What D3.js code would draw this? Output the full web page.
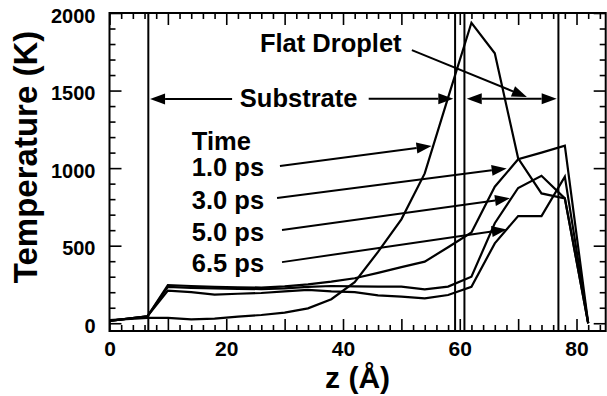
<!DOCTYPE html>
<html>
<head>
<meta charset="utf-8">
<script src="https://cdn.jsdelivr.net/npm/d3@7"></script>
<style>
  body { margin: 0; background: #fff; }
  svg { display: block; }
  text { font-family: "Liberation Sans", Arial, Helvetica, sans-serif; font-weight: bold; fill: #000; }
</style>
</head>
<body>
<svg id="chart" width="607" height="396"></svg>
<script>
// Position along the surface normal (Å) of each temperature sample
const zPositions = [0, 6.5, 10, 14, 18, 22, 26, 30, 34, 38, 42, 46, 50, 54, 58, 62, 66, 70, 74, 78, 82];

// Temperature profiles (K) at each time
const temp1_0ps = [20, 35, 35, 25, 30, 43, 53, 68, 96, 155, 265, 460, 670, 966, 1454, 1937, 1740, 1063, 837, 805, 0];
const temp3_0ps = [15, 45, 245, 240, 235, 232, 230, 238, 250, 268, 290, 325, 362, 397, 490, 585, 880, 1057, 1100, 1145, 0];
const temp5_0ps = [15, 45, 235, 228, 225, 222, 220, 225, 235, 240, 238, 236, 236, 219, 236, 300, 645, 872, 951, 805, 0];
const temp6_5ps = [15, 45, 210, 200, 185, 190, 195, 205, 215, 205, 200, 180, 171, 160, 182, 235, 515, 691, 691, 945, 0];

const timeLabels = ["1.0 ps", "3.0 ps", "5.0 ps", "6.5 ps"];
const profiles = [temp1_0ps, temp3_0ps, temp5_0ps, temp6_5ps];

// Axis ticks
const xTickLabels = [0, 20, 40, 60, 80];
const yTickLabels = [0, 500, 1000, 1500, 2000];

// Region boundaries (Å): substrate edges and droplet edges
const boundaryLines = [6.65, 59.2, 60.8, 76.9];

const svg = d3.select("#chart");
const x = d3.scaleLinear().domain([0, 85]).range([109.5, 605.7]);
const y = d3.scaleLinear().domain([-50, 2000]).range([331, 13]);

const FONT = '"Liberation Sans", Arial, Helvetica, sans-serif';
const NOTE_SIZE = 25.5;

function styleAxis(g, size) {
  g.attr("font-family", FONT).attr("font-size", size).attr("font-weight", "bold");
  g.select(".domain").remove();
  g.selectAll(".tick line").attr("stroke", "#000").attr("stroke-width", 1.6);
}

// Bottom axis: ticks every 2 Å, longer every 10 Å, labels every 20 Å
const xMinor = d3.range(0, 85, 2);
const gx = svg.append("g").attr("transform", `translate(0,${y(-50)})`)
  .call(d3.axisBottom(x).tickValues(xMinor).tickSizeInner(-6).tickSizeOuter(0).tickPadding(10)
    .tickFormat(d => xTickLabels.includes(d) ? d : ""));
styleAxis(gx, 21);
gx.selectAll(".tick line").attr("y2", d => d % 10 === 0 ? -12 : -6);
gx.selectAll(".tick text").attr("y", 10).attr("dy", "0.72em");

// Top axis (mirrored ticks, no labels)
const gxt = svg.append("g").attr("transform", `translate(0,${y(2000)})`)
  .call(d3.axisTop(x).tickValues(xMinor).tickSizeInner(-6).tickSizeOuter(0).tickFormat(""));
styleAxis(gxt, 10);
gxt.selectAll(".tick line").attr("y2", d => d % 10 === 0 ? 12 : 6);

// Left axis: ticks every 100 K, longer every 500 K
const yMinor = d3.range(0, 2001, 100);
const gy = svg.append("g").attr("transform", `translate(${x(0)},0)`)
  .call(d3.axisLeft(y).tickValues(yMinor).tickSizeInner(-6).tickSizeOuter(0).tickPadding(14)
    .tickFormat(d => yTickLabels.includes(d) ? d : ""));
styleAxis(gy, 20);
gy.selectAll(".tick line").attr("x2", d => d % 500 === 0 ? 12 : 6);
gy.selectAll(".tick text").attr("dy", "0.45em");

// Right axis (mirrored ticks)
const gyr = svg.append("g").attr("transform", `translate(${x(85)},0)`)
  .call(d3.axisRight(y).tickValues(yMinor).tickSizeInner(-6).tickSizeOuter(0).tickFormat(""));
styleAxis(gyr, 10);
gyr.selectAll(".tick line").attr("x2", d => d % 500 === 0 ? -12 : -6);

// Plot frame
svg.append("rect")
  .attr("x", x(0)).attr("y", y(2000))
  .attr("width", x(85) - x(0)).attr("height", y(-50) - y(2000))
  .attr("fill", "none").attr("stroke", "#000").attr("stroke-width", 2);

// Region boundary lines
svg.append("g").selectAll("line").data(boundaryLines).join("line")
  .attr("x1", d => x(d)).attr("x2", d => x(d))
  .attr("y1", y(2000)).attr("y2", y(-50))
  .attr("stroke", "#000").attr("stroke-width", 2);

// Temperature profiles
const line = d3.line().x((d, i) => x(zPositions[i])).y(d => y(d));
svg.append("g").selectAll("path").data(profiles).join("path")
  .attr("d", d => line(d))
  .attr("fill", "none").attr("stroke", "#000").attr("stroke-width", 2.2)
  .attr("stroke-linejoin", "miter");

// Arrow helper (data coordinates), filled triangular heads
function arrow(z0, t0, z1, t1, both) {
  const p0 = [x(z0), y(t0)], p1 = [x(z1), y(t1)];
  const g = svg.append("g");
  const head = (a, b) => {
    const dx = b[0] - a[0], dy = b[1] - a[1];
    const len = Math.hypot(dx, dy), ux = dx / len, uy = dy / len;
    const L = 15, W = 5.5;
    const bx = b[0] - ux * L, by = b[1] - uy * L;
    g.append("path")
      .attr("d", `M${b[0]},${b[1]}L${bx - uy * W},${by + ux * W}L${bx + uy * W},${by - ux * W}Z`)
      .attr("fill", "#000");
    return [bx, by];
  };
  const e1 = head(p0, p1);
  const e0 = both ? head(p1, p0) : p0;
  g.append("line").attr("x1", e0[0]).attr("y1", e0[1]).attr("x2", e1[0]).attr("y2", e1[1])
    .attr("stroke", "#000").attr("stroke-width", 2);
}

// Region annotations
svg.append("text").attr("x", x(37.9)).attr("y", y(1748)).attr("text-anchor", "middle")
  .attr("font-size", NOTE_SIZE).text("Flat Droplet");
arrow(51.8, 1761, 71.5, 1458, false);

svg.append("text").attr("x", x(32.4)).attr("y", y(1394)).attr("text-anchor", "middle")
  .attr("font-size", NOTE_SIZE).text("Substrate");
arrow(21.0, 1445, 6.95, 1445, false);
arrow(44.4, 1448, 58.9, 1448, false);
arrow(61.2, 1448, 76.6, 1448, true);

// Time legend with arrows to each profile
svg.append("text").attr("x", x(14.1)).attr("y", y(1117)).attr("font-size", NOTE_SIZE).text("Time");
const labelTemps = [949, 736, 530, 330];
const arrowStarts = [[29.2, 1013], [28.7, 807], [29.55, 601], [29.55, 394]];
const arrowTips = [[55.16, 1142], [68.04, 998], [68.6, 805], [68.04, 605]];
timeLabels.forEach((lab, i) => {
  svg.append("text").attr("x", x(14.1)).attr("y", y(labelTemps[i])).attr("font-size", NOTE_SIZE).text(lab);
  arrow(arrowStarts[i][0], arrowStarts[i][1], arrowTips[i][0], arrowTips[i][1], false);
});

// Axis titles
svg.append("text").attr("x", x(42.5)).attr("y", 388).attr("text-anchor", "middle")
  .attr("font-size", 30).text("z (Å)");
svg.append("text").attr("transform", "translate(37,157) rotate(-90)").attr("text-anchor", "middle")
  .attr("font-size", 33).text("Temperature (K)");
</script>
</body>
</html>
